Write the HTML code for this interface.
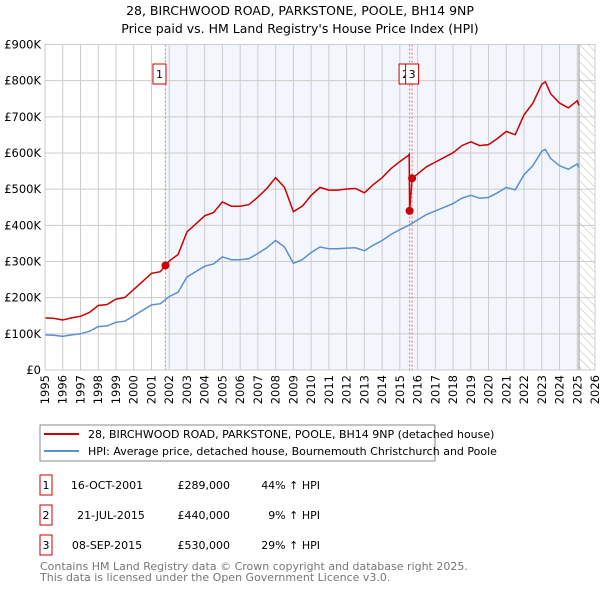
<!DOCTYPE html>
<html><head><meta charset="utf-8"><style>
body{margin:0;background:#fff;font-family:"DejaVu Sans","Liberation Sans",sans-serif;}
svg text{font-family:"DejaVu Sans","Liberation Sans",sans-serif;}
</style></head><body>
<svg id="chart" width="600" height="590" xmlns="http://www.w3.org/2000/svg">
<defs>
<pattern id="hatch" width="6" height="6" patternUnits="userSpaceOnUse" patternTransform="rotate(-45)">
<line x1="0" y1="0" x2="0" y2="6" stroke="#bbb" stroke-width="1"/></pattern>
</defs>
<text x="300" y="15" text-anchor="middle" font-size="12.5">28, BIRCHWOOD ROAD, PARKSTONE, POOLE, BH14 9NP</text>
<text x="300" y="33" text-anchor="middle" font-size="12.5">Price paid vs. HM Land Registry's House Price Index (HPI)</text>
<g id="plot"></g>
<rect x="40" y="425" width="395" height="36" fill="#fff" stroke="#888"/>
<line x1="44" y1="434" x2="79" y2="434" stroke="#cc0000" stroke-width="2"/>
<text x="88" y="438" font-size="11">28, BIRCHWOOD ROAD, PARKSTONE, POOLE, BH14 9NP (detached house)</text>
<line x1="44" y1="451" x2="79" y2="451" stroke="#5b8fd0" stroke-width="2"/>
<text x="88" y="455" font-size="11">HPI: Average price, detached house, Bournemouth Christchurch and Poole</text>
<g font-size="11">
<rect x="40" y="475" width="12" height="20" fill="none" stroke="#cc0000"/><text x="46" y="489" text-anchor="middle">1</text>
<text x="107" y="489" text-anchor="middle">16-OCT-2001</text><text x="230" y="489" text-anchor="end">£289,000</text><text x="320" y="489" text-anchor="end">44% ↑ HPI</text>
<rect x="40" y="505" width="12" height="20" fill="none" stroke="#cc0000"/><text x="46" y="519" text-anchor="middle">2</text>
<text x="111" y="519" text-anchor="middle">21-JUL-2015</text><text x="230" y="519" text-anchor="end">£440,000</text><text x="320" y="519" text-anchor="end">9% ↑ HPI</text>
<rect x="40" y="535" width="12" height="20" fill="none" stroke="#cc0000"/><text x="46" y="549" text-anchor="middle">3</text>
<text x="107" y="549" text-anchor="middle">08-SEP-2015</text><text x="230" y="549" text-anchor="end">£530,000</text><text x="320" y="549" text-anchor="end">29% ↑ HPI</text>
</g>
<text x="40" y="570" font-size="11" fill="#777">Contains HM Land Registry data © Crown copyright and database right 2025.</text>
<text x="40" y="581" font-size="11" fill="#777">This data is licensed under the Open Government Licence v3.0.</text>
</svg>
<script>
const hpiYears=[1995,1995.5,1996,1996.5,1997,1997.5,1998,1998.5,1999,1999.5,2000,2000.5,2001,2001.5,2002,2002.5,2003,2003.5,2004,2004.5,2005,2005.5,2006,2006.5,2007,2007.5,2008,2008.5,2009,2009.5,2010,2010.5,2011,2011.5,2012,2012.5,2013,2013.5,2014,2014.5,2015,2015.5,2016,2016.5,2017,2017.5,2018,2018.5,2019,2019.5,2020,2020.5,2021,2021.5,2022,2022.5,2023,2023.2,2023.5,2024,2024.5,2025,2025.1];
const hpiValues=[97,96,93,97,100,107,120,122,132,135,150,165,180,183,203,215,257,272,287,293,313,305,305,308,322,338,358,340,295,305,325,340,335,335,337,338,330,345,358,375,388,400,415,430,440,450,460,475,483,475,477,490,505,498,540,565,605,610,585,565,555,570,560];
const saleDates=[2001.79,2015.55,2015.69];
const salePrices=[289,440,530];
const saleLabels=["1","2","3"];
const yTicks=[0,100,200,300,400,500,600,700,800,900];
const yTickLabels=["£0","£100K","£200K","£300K","£400K","£500K","£600K","£700K","£800K","£900K"];
const xTicks=[1995,1996,1997,1998,1999,2000,2001,2002,2003,2004,2005,2006,2007,2008,2009,2010,2011,2012,2013,2014,2015,2016,2017,2018,2019,2020,2021,2022,2023,2024,2025,2026];
const dataEnd=2025.1;

const X0=45,X1=595,Y0=370,Y1=44.5;
const xs=t=>X0+(t-1995)/(2026-1995)*(X1-X0);
const ys=v=>Y0-v/900*(Y0-Y1);
const NS="http://www.w3.org/2000/svg";
const g=document.getElementById('plot');
function mk(tag,attrs,parent){const e=document.createElementNS(NS,tag);for(const k in attrs)e.setAttribute(k,attrs[k]);(parent||g).appendChild(e);return e;}
function hpiAt(t){for(let i=0;i<hpiYears.length-1;i++){if(t<=hpiYears[i+1]){const f=(t-hpiYears[i])/(hpiYears[i+1]-hpiYears[i]);return hpiValues[i]+f*(hpiValues[i+1]-hpiValues[i]);}}return hpiValues[hpiValues.length-1];}

let e;
e=mk('rect',{x:xs(saleDates[0]),y:Y1,width:xs(dataEnd)-xs(saleDates[0]),height:Y0-Y1,fill:'#f3f6fd'});


e=mk('rect',{x:xs(dataEnd),y:Y1,width:X1-xs(dataEnd),height:Y0-Y1,fill:'url(#hatch)'});


xTicks.forEach(t=>{
 e=mk('line',{x1:xs(t),x2:xs(t),y1:Y1,y2:Y0,stroke:'#ccc','stroke-width':1});
 
 
 const tx=xs(t)+4, ty=375;
 e=mk('text',{x:tx,y:ty,'text-anchor':'end','font-size':11.5,transform:'rotate(-90 '+tx+' '+ty+')'});
 e.textContent=t;
 
 
});
yTicks.forEach((v,i)=>{
 e=mk('line',{x1:X0,x2:X1,y1:ys(v),y2:ys(v),stroke:'#ccc','stroke-width':1});
 
 
 e=mk('text',{x:41,y:ys(v)+4,'text-anchor':'end','font-size':11.5});
 e.textContent=yTickLabels[i];
 
 
});
e=mk('line',{x1:xs(dataEnd),x2:xs(dataEnd),y1:Y1,y2:Y0,stroke:'#999','stroke-width':1});


saleDates.forEach((d,i)=>{
 e=mk('line',{x1:xs(d),x2:xs(d),y1:Y1,y2:Y0,stroke:'#f07070','stroke-width':1,'stroke-dasharray':'2,2'});
 
 
});
let pts=hpiYears.map((t,i)=>xs(t).toFixed(1)+','+ys(hpiValues[i]).toFixed(1)).join(' ');
e=mk('polyline',{points:pts,fill:'none',stroke:'#5b8fd0','stroke-width':1.5});


const r0=salePrices[0]/hpiAt(saleDates[0]);
const r2=salePrices[2]/hpiAt(saleDates[2]);
let rp=[];
hpiYears.forEach((t,i)=>{if(t<saleDates[1])rp.push([t,hpiValues[i]*r0]);});
rp.push([saleDates[1]-0.02,hpiAt(saleDates[1])*r0]);
rp.push([saleDates[1],salePrices[1]]);
rp.push([saleDates[2],salePrices[2]]);
hpiYears.forEach((t,i)=>{if(t>saleDates[2])rp.push([t,hpiValues[i]*r2]);});
e=mk('polyline',{points:rp.map(p=>xs(p[0]).toFixed(1)+','+ys(p[1]).toFixed(1)).join(' '),fill:'none',stroke:'#cc0000','stroke-width':1.5});


saleDates.forEach((d,i)=>{
 e=mk('circle',{cx:xs(d),cy:ys(salePrices[i]),r:4,fill:'#cc0000'});
 
 
});
[[0,-6],[1,-4],[2,0]].forEach(([i,dx])=>{
 const cx=xs(saleDates[i])+dx;
 e=mk('rect',{x:cx-6.5,y:64,width:13,height:20,fill:'#fff',stroke:'#cc0000'});
 
 
 e=mk('text',{x:cx,y:78,'text-anchor':'middle','font-size':11});
 e.textContent=saleLabels[i];
 
 
});
e=mk('rect',{x:X0,y:Y1,width:X1-X0,height:Y0-Y1,fill:'none',stroke:'#ccc'});


</script>
</body></html>
